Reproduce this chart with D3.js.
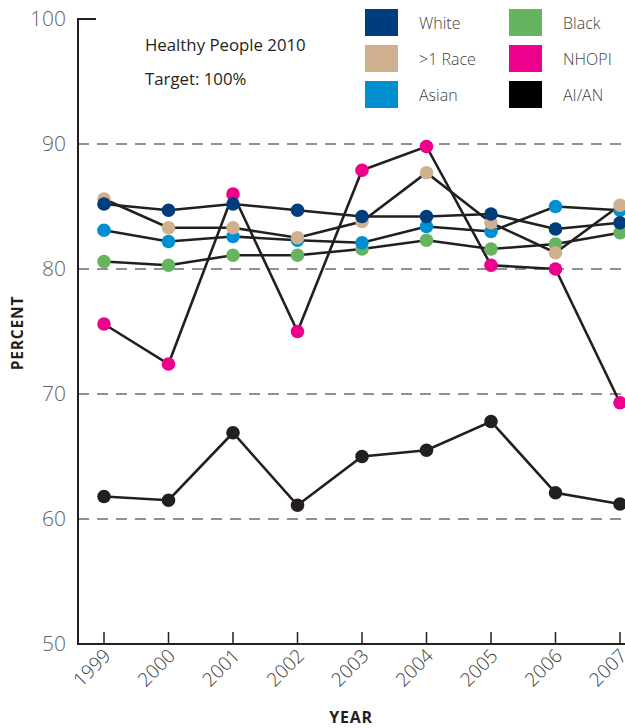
<!DOCTYPE html>
<html>
<head>
<meta charset="utf-8">
<script src="https://cdn.jsdelivr.net/npm/d3@7"></script>
<style>
  body { margin: 0; background: #fff; }
  text { font-family: "Open Sans", "Lato", sans-serif; }
</style>
</head>
<body>
<div id="myChart"></div>
<script>
// Data
var years = [1999, 2000, 2001, 2002, 2003, 2004, 2005, 2006, 2007];
var yTicks = [50, 60, 70, 80, 90, 100];
var gridTicks = [60, 70, 80, 90];

var aian   = [61.8, 61.5, 66.9, 61.1, 65.0, 65.5, 67.8, 62.1, 61.2];
var black  = [80.6, 80.3, 81.1, 81.1, 81.6, 82.3, 81.6, 82.0, 82.9];
var asian  = [83.1, 82.2, 82.6, 82.3, 82.1, 83.4, 83.0, 85.0, 84.7];
var nhopi  = [75.6, 72.4, 86.0, 75.0, 87.9, 89.8, 80.3, 80.0, 69.3];
var multi  = [85.6, 83.3, 83.3, 82.5, 83.8, 87.7, 83.7, 81.3, 85.1];
var white  = [85.2, 84.7, 85.2, 84.7, 84.2, 84.2, 84.4, 83.2, 83.7];

// Draw order: bottom to top
var series = [
  {name: 'AI/AN',   color: '#231f20', values: aian},
  {name: 'Black',   color: '#66b360', values: black},
  {name: 'Asian',   color: '#0090d2', values: asian},
  {name: 'NHOPI',   color: '#ec008c', values: nhopi},
  {name: '>1 Race', color: '#cfb08f', values: multi},
  {name: 'White',   color: '#003d7c', values: white}
];
var legendOrder = ['White', '>1 Race', 'Asian', 'Black', 'NHOPI', 'AI/AN'];

var W = 625, H = 728;
var axisX = 78, axisTop = 19, axisBottom = 644;

var svg = d3.select("#myChart")
  .append("svg")
    .attr("width", W)
    .attr("height", H);

var x = d3.scaleLinear()
  .domain([1999, 2007])
  .range([104, 620]);

var y = d3.scaleLinear()
  .domain([50, 100])
  .range([axisBottom, axisTop]);

// dashed grid lines
svg.append("g").selectAll("line")
  .data(gridTicks)
  .join("line")
    .attr("x1", axisX)
    .attr("x2", W)
    .attr("y1", function(d) { return y(d); })
    .attr("y2", function(d) { return y(d); })
    .attr("stroke", "#6d6e71")
    .attr("stroke-width", 1.3)
    .attr("stroke-dasharray", "11,8");

// y tick labels
svg.append("g").selectAll("text")
  .data(yTicks)
  .join("text")
    .attr("x", 66)
    .attr("y", function(d) { return y(d); })
    .attr("dy", "0.35em")
    .attr("text-anchor", "end")
    .attr("font-size", 21)
    .attr("font-weight", 300)
    .attr("fill", "#616264")
    .text(function(d) { return d; });

// axes
svg.append("path")
  .attr("d", "M" + (axisX + 18) + "," + axisTop + "H" + axisX + "V" + axisBottom + "H" + W)
  .attr("fill", "none")
  .attr("stroke", "#231f20")
  .attr("stroke-width", 2);

svg.append("g").selectAll("line")
  .data(years)
  .join("line")
    .attr("x1", function(d) { return x(d); })
    .attr("x2", function(d) { return x(d); })
    .attr("y1", axisBottom)
    .attr("y2", axisBottom - 12)
    .attr("stroke", "#231f20")
    .attr("stroke-width", 1.5);

svg.append("g").selectAll("text")
  .data(years)
  .join("text")
    .attr("transform", function(d) {
      return "translate(" + (x(d) + 8) + "," + (axisBottom + 13) + ") rotate(-45)";
    })
    .attr("text-anchor", "end")
    .attr("font-size", 19)
    .attr("font-weight", 300)
    .attr("fill", "#3a3a3c")
    .text(function(d) { return d; });

// axis titles
svg.append("text")
  .attr("x", 351)
  .attr("y", 723)
  .attr("text-anchor", "middle")
  .attr("font-size", 16)
  .attr("font-weight", "bold")
  .attr("letter-spacing", "0.8px")
  .attr("fill", "#231f20")
  .text("YEAR");

svg.append("text")
  .attr("transform", "translate(23,333) rotate(-90)")
  .attr("text-anchor", "middle")
  .attr("font-size", 15.5)
  .attr("font-weight", "bold")
  .attr("letter-spacing", "0.8px")
  .attr("fill", "#231f20")
  .text("PERCENT");

// target note
svg.append("text")
  .attr("x", 145).attr("y", 51)
  .attr("font-size", 16.8)
  .attr("fill", "#231f20")
  .text("Healthy People 2010");
svg.append("text")
  .attr("x", 145).attr("y", 85)
  .attr("font-size", 16.8)
  .attr("fill", "#231f20")
  .text("Target: 100%");

// lines
var line = d3.line()
  .x(function(d, i) { return x(years[i]); })
  .y(function(d) { return y(d); });

svg.append("g").selectAll("path")
  .data(series)
  .join("path")
    .attr("fill", "none")
    .attr("stroke", "#231f20")
    .attr("stroke-width", 2.6)
    .attr("d", function(s) { return line(s.values); });

// dots
series.forEach(function(s) {
  svg.append("g").selectAll("circle")
    .data(s.values)
    .join("circle")
      .attr("cx", function(d, i) { return x(years[i]); })
      .attr("cy", function(d) { return y(d); })
      .attr("r", 6.8)
      .attr("fill", s.color);
});

// legend
var legend = svg.append("g");
legendOrder.forEach(function(name, i) {
  var s = series.find(function(d) { return d.name === name; });
  var col = Math.floor(i / 3), row = i % 3;
  var g = legend.append("g")
    .attr("transform", "translate(" + (365 + col * 144) + "," + (9 + row * 36) + ")");
  g.append("rect")
    .attr("width", 33)
    .attr("height", 27)
    .attr("fill", s.color === '#231f20' ? '#000' : s.color);
  g.append("text")
    .attr("x", 54)
    .attr("y", 14)
    .attr("dy", "0.35em")
    .attr("font-size", 16)
    .attr("font-weight", 300)
    .attr("fill", "#414042")
    .text(name);
});
</script>
</body>
</html>
